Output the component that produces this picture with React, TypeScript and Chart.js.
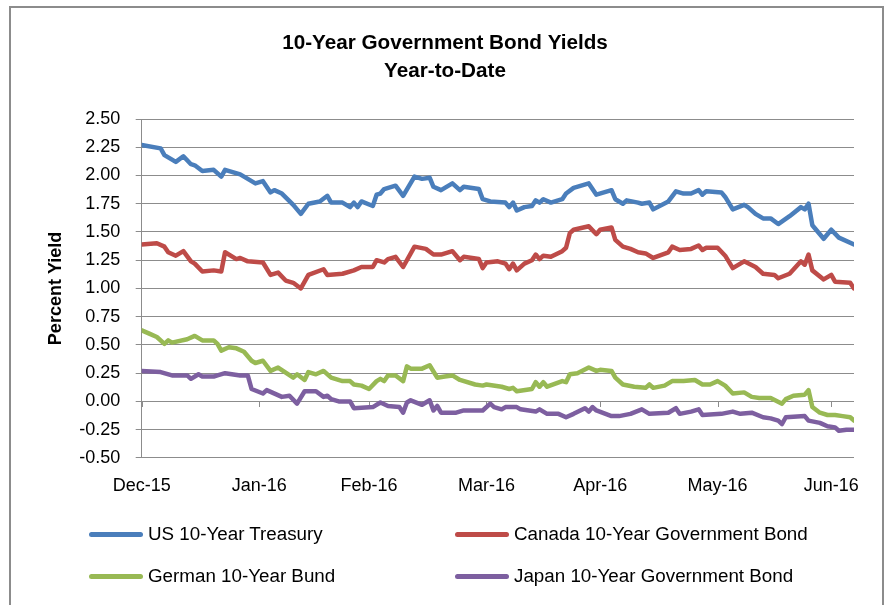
import React, { useEffect, useRef } from "react";
import { Chart, registerables } from "chart.js";

Chart.register(...registerables);

// x values are calendar days counted from 31 Dec 2015
const tickDays = [0, 31, 60, 91, 121, 152, 182];
const tickLabels = ["Dec-15", "Jan-16", "Feb-16", "Mar-16", "Apr-16", "May-16", "Jun-16"];

const seriesNames = [
  "US 10-Year Treasury",
  "Canada 10-Year Government Bond",
  "German 10-Year Bund",
  "Japan 10-Year Government Bond",
];
const seriesColors = ["#4A7EBB", "#BE4B48", "#98B954", "#7D5FA0"];

const usDays = [0, 5, 6, 9, 11, 13, 14, 16, 19, 21, 22, 26, 27, 30, 32, 34, 35, 37, 40, 41, 42, 44, 47, 49, 50, 53, 55, 56, 57, 58, 61, 62, 63, 64, 67, 69, 72, 74, 76, 77, 79, 82, 84, 85, 89, 90, 92, 96, 97, 98, 99, 101, 103, 104, 105, 106, 108, 111, 112, 114, 118, 120, 124, 125, 127, 128, 131, 132, 134, 135, 139, 141, 143, 145, 147, 148, 149, 153, 154, 156, 159, 160, 162, 164, 166, 168, 171, 174, 175, 176, 177, 180, 182, 184, 188];
const usYield = [2.27, 2.24, 2.18, 2.12, 2.17, 2.10, 2.09, 2.04, 2.05, 1.99, 2.05, 2.01, 1.99, 1.93, 1.95, 1.85, 1.87, 1.84, 1.74, 1.70, 1.66, 1.75, 1.77, 1.82, 1.76, 1.76, 1.72, 1.76, 1.72, 1.77, 1.73, 1.83, 1.84, 1.88, 1.91, 1.82, 1.99, 1.97, 1.98, 1.90, 1.87, 1.93, 1.87, 1.90, 1.88, 1.79, 1.77, 1.76, 1.72, 1.76, 1.69, 1.72, 1.73, 1.78, 1.76, 1.79, 1.76, 1.79, 1.84, 1.89, 1.93, 1.83, 1.87, 1.79, 1.75, 1.78, 1.76, 1.75, 1.76, 1.70, 1.77, 1.86, 1.84, 1.84, 1.87, 1.83, 1.86, 1.85, 1.81, 1.70, 1.74, 1.72, 1.66, 1.62, 1.62, 1.57, 1.64, 1.72, 1.70, 1.75, 1.56, 1.44, 1.52, 1.45, 1.39];

const caDays = [0, 4, 6, 7, 9, 11, 13, 14, 16, 19, 21, 22, 25, 26, 28, 32, 34, 36, 38, 40, 42, 44, 48, 49, 53, 56, 58, 61, 62, 64, 65, 67, 69, 72, 75, 77, 79, 82, 84, 85, 89, 90, 91, 94, 96, 97, 98, 99, 101, 103, 104, 105, 106, 108, 111, 112, 113, 114, 118, 120, 121, 124, 125, 127, 129, 131, 133, 135, 139, 140, 142, 145, 147, 148, 149, 152, 154, 156, 159, 162, 164, 167, 168, 171, 174, 175, 176, 177, 180, 182, 183, 187, 188];
const caYield = [1.39, 1.40, 1.37, 1.32, 1.29, 1.33, 1.24, 1.22, 1.15, 1.16, 1.15, 1.32, 1.26, 1.27, 1.24, 1.23, 1.12, 1.14, 1.07, 1.05, 1.00, 1.12, 1.17, 1.12, 1.13, 1.16, 1.19, 1.19, 1.25, 1.23, 1.26, 1.28, 1.19, 1.37, 1.35, 1.30, 1.30, 1.33, 1.25, 1.28, 1.26, 1.18, 1.23, 1.24, 1.22, 1.17, 1.22, 1.16, 1.22, 1.25, 1.30, 1.26, 1.29, 1.28, 1.33, 1.36, 1.49, 1.52, 1.55, 1.48, 1.52, 1.54, 1.43, 1.37, 1.35, 1.32, 1.31, 1.27, 1.32, 1.37, 1.34, 1.35, 1.38, 1.34, 1.36, 1.36, 1.29, 1.18, 1.24, 1.19, 1.13, 1.12, 1.09, 1.13, 1.24, 1.21, 1.30, 1.16, 1.08, 1.12, 1.06, 1.05, 1.00];

const deDays = [0, 2, 4, 6, 7, 8, 12, 14, 16, 19, 20, 21, 23, 25, 27, 29, 30, 32, 34, 36, 40, 41, 43, 44, 46, 48, 50, 53, 55, 56, 58, 60, 62, 63, 64, 65, 67, 69, 70, 71, 74, 76, 78, 80, 82, 84, 88, 90, 91, 95, 97, 98, 99, 103, 104, 105, 106, 107, 111, 112, 113, 115, 118, 120, 121, 124, 125, 127, 130, 133, 134, 135, 138, 140, 143, 146, 148, 150, 152, 154, 156, 159, 161, 163, 166, 169, 170, 172, 175, 176, 177, 179, 181, 183, 185, 187, 188];
const deYield = [0.63, 0.60, 0.57, 0.51, 0.54, 0.52, 0.55, 0.58, 0.54, 0.54, 0.51, 0.45, 0.48, 0.47, 0.44, 0.36, 0.34, 0.36, 0.27, 0.30, 0.21, 0.24, 0.19, 0.26, 0.24, 0.27, 0.21, 0.18, 0.18, 0.15, 0.14, 0.11, 0.18, 0.20, 0.18, 0.23, 0.23, 0.18, 0.31, 0.29, 0.29, 0.32, 0.21, 0.22, 0.23, 0.19, 0.15, 0.14, 0.15, 0.13, 0.11, 0.12, 0.09, 0.11, 0.17, 0.13, 0.17, 0.13, 0.18, 0.17, 0.24, 0.25, 0.30, 0.27, 0.28, 0.27, 0.21, 0.15, 0.13, 0.12, 0.15, 0.12, 0.14, 0.18, 0.18, 0.19, 0.15, 0.15, 0.18, 0.14, 0.07, 0.08, 0.04, 0.03, 0.03, -0.02, 0.02, 0.05, 0.06, 0.10, -0.05, -0.10, -0.12, -0.12, -0.13, -0.14, -0.17];

const jpDays = [0, 5, 8, 12, 13, 15, 16, 19, 20, 22, 26, 28, 29, 32, 33, 37, 39, 41, 43, 46, 48, 49, 50, 52, 55, 56, 61, 63, 65, 68, 69, 70, 71, 74, 76, 77, 78, 79, 83, 85, 90, 92, 93, 95, 96, 99, 100, 104, 105, 107, 110, 112, 114, 117, 118, 119, 120, 124, 126, 129, 132, 134, 139, 141, 142, 145, 147, 148, 153, 156, 158, 161, 164, 166, 168, 169, 170, 175, 176, 179, 181, 183, 184, 186, 188];
const jpYield = [0.27, 0.26, 0.23, 0.23, 0.20, 0.24, 0.22, 0.22, 0.23, 0.25, 0.23, 0.23, 0.11, 0.07, 0.10, 0.04, 0.05, -0.02, 0.09, 0.09, 0.04, 0.05, 0.02, 0.00, 0.00, -0.06, -0.05, -0.01, -0.04, -0.05, -0.10, -0.01, 0.01, -0.03, 0.01, -0.08, -0.04, -0.10, -0.10, -0.08, -0.08, -0.02, -0.05, -0.07, -0.05, -0.05, -0.07, -0.09, -0.07, -0.11, -0.11, -0.14, -0.11, -0.06, -0.09, -0.05, -0.08, -0.13, -0.13, -0.11, -0.07, -0.11, -0.10, -0.06, -0.11, -0.09, -0.07, -0.12, -0.11, -0.09, -0.11, -0.10, -0.14, -0.15, -0.17, -0.20, -0.14, -0.13, -0.17, -0.19, -0.22, -0.23, -0.26, -0.25, -0.25];

const yMin = -0.5;
const yMax = 2.5;
const yStep = 0.25;

const chartTitle = ["10-Year Government Bond Yields", "Year-to-Date"];
const yAxisTitle = "Percent Yield";

const GRID = "#8C8C8C";
const FONT = "'Liberation Sans', Arial, sans-serif";

const seriesDays = [usDays, caDays, deDays, jpDays];
const seriesValues = [usYield, caYield, deYield, jpYield];

export default function App() {
  const ref = useRef<HTMLCanvasElement>(null);

  useEffect(() => {
    if (!ref.current) return;
    const zeroTicks = {
      id: "zeroTicks",
      beforeDatasetsDraw(chart: any) {
        const ctx = chart.ctx;
        const xs = chart.scales.x;
        const ys = chart.scales.y;
        const y0 = Math.round(ys.getPixelForValue(0));
        ctx.save();
        ctx.strokeStyle = GRID;
        ctx.lineWidth = 1;
        tickDays.forEach((d) => {
          const px = Math.round(xs.getPixelForValue(d)) + 0.5;
          ctx.beginPath();
          ctx.moveTo(px, y0);
          ctx.lineTo(px, y0 + 6);
          ctx.stroke();
        });
        ctx.restore();
      },
    };

    const chart = new Chart(ref.current, {
      type: "line",
      data: {
        datasets: seriesNames.map((name, i) => ({
          label: name,
          data: seriesDays[i].map((d, j) => ({ x: d, y: seriesValues[i][j] })),
          borderColor: seriesColors[i],
          backgroundColor: seriesColors[i],
          borderWidth: 4.5,
          pointRadius: 0,
          tension: 0,
          borderJoinStyle: "round",
          borderCapStyle: "round",
          fill: false,
        })),
      },
      options: {
        animation: false,
        responsive: false,
        devicePixelRatio: 1,
        layout: { padding: { left: 36, right: 36, top: 0, bottom: 90.5 } },
        plugins: {
          legend: { display: false },
          tooltip: { enabled: false },
          title: {
            display: true,
            text: chartTitle,
            color: "#000",
            font: { family: FONT, size: 20.7, weight: "bold", lineHeight: 28 / 20.7 },
            padding: { top: 29.5, bottom: 33.5 },
          },
        },
        scales: {
          x: {
            type: "linear",
            min: 0,
            max: 188,
            afterBuildTicks: (s: any) => {
              s.ticks = tickDays.map((v) => ({ value: v }));
            },
            ticks: {
              autoSkip: false,
              maxRotation: 0,
              color: "#000",
              padding: 17.5,
              font: { family: FONT, size: 18 },
              callback: (_v: any, i: number) => tickLabels[i],
            },
            grid: { display: false, drawTicks: false },
            border: { display: false },
          },
          y: {
            min: yMin,
            max: yMax,
            afterFit: (s: any) => {
              s.width = 141.7 - 36;
            },
            ticks: {
              stepSize: yStep,
              color: "#000",
              padding: 15.5,
              font: { family: FONT, size: 18 },
              callback: (v: any) => Number(v).toFixed(2),
            },
            grid: { color: GRID, lineWidth: 1, tickLength: 6, drawTicks: true },
            border: { color: GRID, width: 1 },
            title: {
              display: true,
              text: yAxisTitle,
              color: "#000",
              font: { family: FONT, size: 18, weight: "bold" },
              padding: { top: 9, bottom: 0 },
            },
          },
        },
      } as any,
      plugins: [zeroTicks],
    });
    return () => chart.destroy();
  }, []);

  const legendCols = [89, 455];
  const legendRows = [534, 576];

  return (
    <div style={{ position: "fixed", left: 0, top: 0, width: 890, height: 605, overflow: "hidden", background: "#fff" }}>
      <div
        style={{
          position: "absolute",
          left: 9,
          top: 6,
          width: 875,
          height: 700,
          boxSizing: "border-box",
          border: "2px solid #8C8C8C",
        }}
      />
      <canvas ref={ref} width={890} height={605} style={{ position: "absolute", left: 0, top: 0, width: 890, height: 605 }} />
      {seriesNames.map((name, i) => (
        <div
          key={name}
          style={{
            position: "absolute",
            left: legendCols[i % 2],
            top: legendRows[Math.floor(i / 2)] - 12,
            height: 24,
            display: "flex",
            alignItems: "center",
            whiteSpace: "nowrap",
          }}
        >
          <span style={{ display: "inline-block", width: 54, height: 5, borderRadius: 3, background: seriesColors[i] }} />
          <span style={{ marginLeft: 5, fontFamily: FONT, fontSize: 18.8, color: "#000", lineHeight: "24px" }}>{name}</span>
        </div>
      ))}
    </div>
  );
}
